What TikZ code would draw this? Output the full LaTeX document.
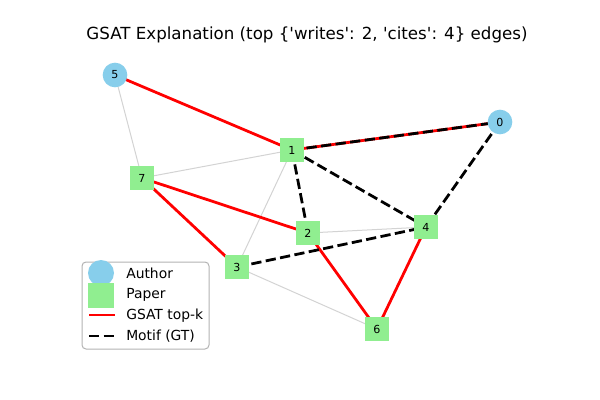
\documentclass[tikz,border=0pt]{standalone}
\usepackage{fontspec}
\setmainfont{DejaVu Sans}
\definecolor{authorblue}{HTML}{87CEEB}
\definecolor{papergreen}{HTML}{90EE90}
\definecolor{edgegray}{HTML}{D3D3D3}
\newcommand{\sq}{\textquotesingle}
\begin{document}
\begin{tikzpicture}[x=0.75pt,y=-0.75pt,
  author/.style={circle,fill=authorblue,minimum size=18.5pt,inner sep=0pt,font=\fontsize{8.3}{10}\selectfont},
  paper/.style={rectangle,fill=papergreen,minimum size=18.5pt,inner sep=0pt,font=\fontsize{8.3}{10}\selectfont},
  plain/.style={draw=edgegray,line width=0.75pt},
  topk/.style={draw=red,line width=2.08pt},
  motif/.style={draw=black,line width=2.08pt,dash pattern=on 7.7pt off 3.3pt},
  legtext/.style={anchor=west,inner sep=0pt,font=\fontsize{10.4}{12}\selectfont}]
\useasboundingbox (0,0) rectangle (600,400);

% title
\node[font=\fontsize{12.5}{15}\selectfont] (title) at (307,35) {GSAT Explanation (top \{\sq writes\sq: 2, \sq cites\sq: 4\} edges)};

% node positions
\coordinate (p5) at (115,75);
\coordinate (p0) at (500,122);
\coordinate (p1) at (292,150);
\coordinate (p7) at (142,178);
\coordinate (p2) at (308,233);
\coordinate (p4) at (426,227);
\coordinate (p3) at (237,267);
\coordinate (p6) at (377,329);

% ordinary edges
\draw[plain] (p5) -- (p7);
\draw[plain] (p7) -- (p1);
\draw[plain] (p1) -- (p3);
\draw[plain] (p2) -- (p4);
\draw[plain] (p3) -- (p6);

% GSAT top-k edges
\draw[topk] (p5) -- (p1);
\draw[topk] (p1) -- (p0);
\draw[topk] (p7) -- (p2);
\draw[topk] (p7) -- (p3);
\draw[topk] (p2) -- (p6);
\draw[topk] (p4) -- (p6);

% ground-truth motif edges
\draw[motif] (p1) -- (p0);
\draw[motif] (p1) -- (p4);
\draw[motif] (p1) -- (p2);
\draw[motif] (p0) -- (p4);
\draw[motif] (p3) -- (p4);

% nodes
\node[author] (n5) at (p5) {5};
\node[author] (n0) at (p0) {0};
\node[paper] (n1) at (p1) {1};
\node[paper] (n7) at (p7) {7};
\node[paper] (n2) at (p2) {2};
\node[paper] (n4) at (p4) {4};
\node[paper] (n3) at (p3) {3};
\node[paper] (n6) at (p6) {6};

% legend
\draw[draw=edgegray!85!black,fill=white,fill opacity=0.8,line width=0.75pt,rounded corners=3pt] (82,262) rectangle (209,349);
\node[circle,fill=authorblue,minimum size=19.5pt,inner sep=0pt] (lauthor) at (101,273) {};
\node[rectangle,fill=papergreen,minimum width=19.5pt,minimum height=18.75pt,inner sep=0pt] (lpaper) at (101,295.5) {};
\coordinate (lr1) at (89,315);
\coordinate (lr2) at (115,315);
\draw[topk] (lr1) -- (lr2);
\coordinate (lm1) at (89,336);
\coordinate (lm2) at (115,336);
\draw[motif] (lm1) -- (lm2);
\node[legtext] (tauthor) at (126,273) {Author};
\node[legtext] (tpaper) at (126,294.5) {Paper};
\node[legtext] (tgsat) at (126,315.5) {GSAT top-k};
\node[legtext] (tmotif) at (126,336) {Motif (GT)};
\end{tikzpicture}
\end{document}
